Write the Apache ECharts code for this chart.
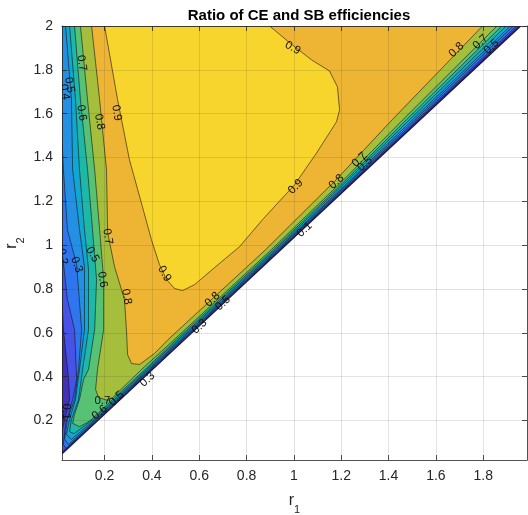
<!DOCTYPE html>
<html>
<head>
<meta charset="utf-8">
<script src="https://cdn.jsdelivr.net/npm/echarts@6/dist/echarts.min.js"></script>
<style>html,body{margin:0;padding:0;background:#fff}#chart{width:528px;height:515px}</style>
</head>
<body>
<div id="chart"></div>
<script>
// filled contour bands, lowest first (parula-like colours)
const levels = [0, 0.1, 0.2, 0.3, 0.4, 0.5, 0.6, 0.7, 0.8, 0.9];
const bandColors = ['#4130b8', '#4752e6', '#2f76ee', '#2390e4', '#11a8d0',
                    '#1eb8a8', '#57c174', '#a5bf3c', '#eeb535', '#f8d52c'];

// area where the ratio is defined (r2 > r1), [r1, r2]
const domain = [[0.02, 0.048], [0.02, 2.0], [1.958, 2.0]];

// region above each level, outlined by its contour line, [r1, r2]
const c01 = [[0.02,2.0],[0.02,0.752],[0.026,0.615],[0.048,0.387],[0.052,0.296],[0.039,0.237],[0.022,0.159],
             [0.02,0.123],[0.02,0.056],[0.173,0.205],[0.254,0.287],[0.398,0.433],[0.534,0.569],[0.941,0.979],
             [1.257,1.298],[1.527,1.572],[1.752,1.8],[1.950,2.0]];
const c02 = [[0.02,2.0],[0.02,1.048],[0.022,0.957],[0.043,0.752],[0.073,0.615],[0.082,0.387],[0.065,0.296],
             [0.035,0.182],[0.026,0.091],[0.037,0.073],[0.169,0.205],[0.250,0.287],[0.394,0.433],[0.529,0.569],
             [0.937,0.979],[1.252,1.298],[1.520,1.572],[1.744,1.8],[1.940,2.0]];
const c03 = [[0.02,2.0],[0.02,1.481],[0.026,1.344],[0.043,1.071],[0.082,0.911],[0.103,0.615],[0.090,0.433],
             [0.073,0.296],[0.043,0.205],[0.031,0.114],[0.048,0.091],[0.164,0.205],[0.245,0.287],[0.389,0.433],
             [0.524,0.569],[0.932,0.979],[1.245,1.298],[1.511,1.572],[1.732,1.8],[1.927,2.0]];
const c04 = [[0.035,2.0],[0.060,1.663],[0.065,1.344],[0.094,1.071],[0.115,0.902],[0.115,0.615],[0.094,0.433],
             [0.077,0.296],[0.052,0.205],[0.039,0.137],[0.060,0.114],[0.159,0.205],[0.240,0.287],[0.384,0.433],
             [0.518,0.569],[0.927,0.979],[1.239,1.298],[1.501,1.572],[1.721,1.8],[1.915,2.0]];
const c05 = [[0.052,2.0],[0.077,1.663],[0.094,1.344],[0.115,1.071],[0.132,0.889],[0.132,0.615],[0.107,0.433],
             [0.090,0.296],[0.060,0.205],[0.052,0.150],[0.070,0.140],[0.152,0.205],[0.233,0.287],[0.377,0.433],
             [0.511,0.569],[0.920,0.979],[1.229,1.298],[1.488,1.572],[1.706,1.8],[1.897,2.0]];
const c06 = [[0.073,2.0],[0.098,1.663],[0.128,1.344],[0.149,1.071],[0.166,0.843],[0.158,0.615],[0.132,0.433],
             [0.111,0.387],[0.094,0.296],[0.073,0.228],[0.065,0.187],[0.094,0.172],[0.125,0.190],[0.145,0.205],
             [0.225,0.287],[0.371,0.433],[0.503,0.569],[0.913,0.979],[1.220,1.298],[1.475,1.572],[1.690,1.8],
             [1.879,2.0]];
const c07 = [[0.098,2.0],[0.128,1.663],[0.158,1.344],[0.179,1.071],[0.196,0.843],[0.196,0.615],[0.170,0.433],
             [0.162,0.342],[0.174,0.305],[0.213,0.292],[0.234,0.305],[0.356,0.433],[0.494,0.569],[0.904,0.979],
             [1.210,1.298],[1.460,1.572],[1.672,1.8],[1.858,2.0]];
const c08 = [[0.145,2.0],[0.179,1.663],[0.208,1.344],[0.213,1.057],[0.242,0.902],[0.284,0.752],[0.293,0.601],
             [0.297,0.501],[0.314,0.460],[0.348,0.456],[0.411,0.506],[0.468,0.569],[0.880,0.979],[1.178,1.298],
             [1.415,1.572],[1.619,1.8],[1.797,2.0]];
const c09 = [[0.200,2.0],[0.255,1.663],[0.305,1.390],[0.360,1.175],[0.398,1.025],[0.432,0.911],[0.462,0.843],
             [0.496,0.802],[0.530,0.793],[0.580,0.820],[0.665,0.898],[0.770,0.993],[0.867,1.116],[1.003,1.276],
             [1.096,1.421],[1.180,1.563],[1.193,1.617],[1.184,1.722],[1.150,1.795],[1.075,1.845],[0.994,1.913],
             [0.897,2.0]];
const regions = [domain, c01, c02, c03, c04, c05, c06, c07, c08, c09];

// clabel texts: [r1, r2, text, angle in degrees]
const contourLabels = [
  [0.995, 1.900, '0.9', -30], [0.251, 1.604, '0.9', -80], [0.179, 1.563, '0.8', -80],
  [0.103, 1.831, '0.7', -80], [0.103, 1.604, '0.6', -80], [0.052, 1.731, '0.5', -80],
  [0.031, 1.699, '0.4', -80], [1.007, 1.267, '0.9', 45], [0.453, 0.870, '0.9', -60],
  [1.687, 1.891, '0.8', 43], [1.788, 1.927, '0.7', 43], [1.180, 1.289, '0.8', 43],
  [1.277, 1.390, '0.7', 43], [1.045, 1.071, '0.1', 43], [0.656, 0.752, '0.8', 43],
  [0.601, 0.629, '0.3', 43], [0.213, 1.039, '0.7', -80], [0.191, 0.843, '0.6', -80],
  [0.293, 0.765, '0.8', -80], [0.022, 0.948, '0.2', -80], [0.082, 0.911, '0.3', -70],
  [0.149, 0.957, '0.5', -60], [0.191, 0.292, '0.7', 0], [0.179, 0.237, '0.6', 40],
  [0.039, 0.241, '0.1', -90], [0.381, 0.387, '0.3', 43], [1.835, 1.905, '0.5', 43],
  [1.300, 1.370, '0.5', 43], [0.700, 0.735, '0.5', 43], [0.250, 0.300, '0.5', 43]
];

const xTicks = [0.2, 0.4, 0.6, 0.8, 1, 1.2, 1.4, 1.6, 1.8];
const yTicks = [0.2, 0.4, 0.6, 0.8, 1, 1.2, 1.4, 1.6, 1.8, 2];

const font = 'Liberation Sans, Helvetica, Arial, sans-serif';
const axisColor = '#262626';

const chart = echarts.init(document.getElementById('chart'));

function axisBase(ticks, show) {
  return {
    type: 'value',
    z: 10,
    axisLine: { show: true, onZero: false, lineStyle: { color: axisColor, width: 0.8 } },
    axisTick: { show: true, inside: true, length: 5, customValues: ticks, lineStyle: { color: axisColor, width: 0.8 } },
    axisLabel: { show: show, customValues: ticks, color: axisColor, fontSize: 14, fontFamily: font, margin: 9 },
    splitLine: { show: show, lineStyle: { color: 'rgba(38,38,38,0.13)', width: 1 } }
  };
}

const subRich = {
  r: { fontSize: 16, fontFamily: font, color: axisColor, lineHeight: 22, verticalAlign: 'top' },
  s: { fontSize: 11, fontFamily: font, color: axisColor, lineHeight: 22, verticalAlign: 'bottom' }
};

const option = {
  animation: false,
  backgroundColor: '#fff',
  title: {
    text: 'Ratio of CE and SB efficiencies',
    left: 294, top: 3, textAlign: 'center',
    textStyle: { fontSize: 15, fontWeight: 'bold', fontFamily: font, color: '#000' }
  },
  grid: { left: 62, right: 1, top: 26, bottom: 55, outerBoundsMode: 'none', containLabel: false },
  xAxis: [
    Object.assign(axisBase(xTicks, true), {
      min: 0.02, max: 1.985, position: 'bottom',
      name: '{r|r}{s|1}', nameLocation: 'middle', nameGap: 33, nameMoveOverlap: false,
      nameTextStyle: { rich: subRich }
    }),
    Object.assign(axisBase(xTicks, false), { min: 0.02, max: 1.985, position: 'top' })
  ],
  yAxis: [
    Object.assign(axisBase(yTicks, true), {
      min: 0.02, max: 2, position: 'left',
      name: '{r|r}{s|2}', nameLocation: 'middle', nameGap: 36, nameRotate: 90, nameMoveOverlap: false,
      nameTextStyle: { rich: subRich }
    }),
    Object.assign(axisBase(yTicks, false), { min: 0.02, max: 2, position: 'right' })
  ],
  series: [
    {
      type: 'custom',
      name: 'bands',
      xAxisIndex: 0, yAxisIndex: 0,
      clip: true,
      silent: true,
      data: regions.map((r, i) => [r[0][0], r[0][1], levels[i]]),
      encode: { x: 0, y: 1 },
      renderItem: (params, api) => {
        const i = params.dataIndex;
        return {
          type: 'polygon',
          shape: { points: regions[i].map(p => api.coord(p)) },
          style: i
            ? { fill: bandColors[i], stroke: '#141414', lineWidth: 0.6 }
            : { fill: bandColors[i], stroke: '#1b1b45', lineWidth: 1.4 }
        };
      }
    },
    {
      type: 'custom',
      name: 'labels',
      xAxisIndex: 0, yAxisIndex: 0,
      clip: true,
      silent: true,
      z: 4,
      data: contourLabels.map(l => [l[0], l[1]]),
      encode: { x: 0, y: 1 },
      renderItem: (params, api) => {
        const l = contourLabels[params.dataIndex];
        const p = api.coord([l[0], l[1]]);
        return {
          type: 'text',
          x: p[0], y: p[1],
          rotation: l[3] * Math.PI / 180,
          style: {
            text: l[2], fontSize: 11.5, fontFamily: font, fill: '#111',
            align: 'center', verticalAlign: 'middle'
          }
        };
      }
    }
  ]
};

chart.setOption(option);
</script>
</body>
</html>
